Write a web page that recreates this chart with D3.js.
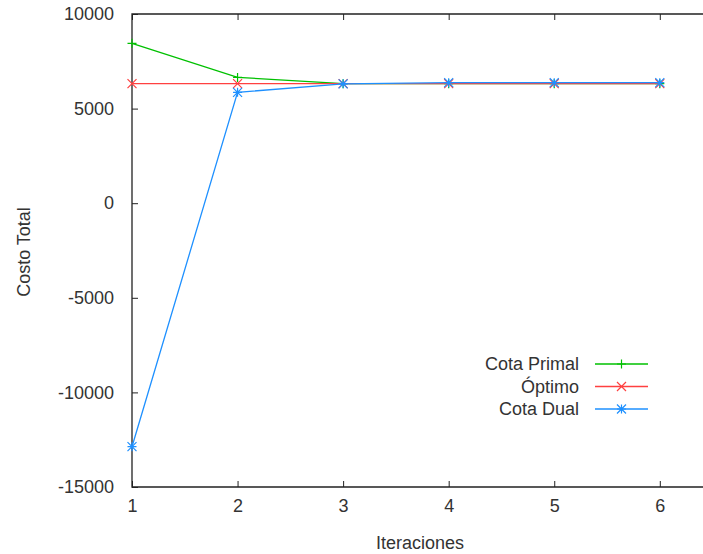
<!DOCTYPE html>
<html><head><meta charset="utf-8">
<script src="https://cdn.jsdelivr.net/npm/d3@7"></script>
<style>body{margin:0;background:#fff}svg{display:block}text{font-family:"Liberation Sans",Arial,sans-serif;fill:#333}</style>
</head><body>
<script>
const iteraciones = [1, 2, 3, 4, 5, 6];
const cotaPrimal = [8450, 6650, 6320, 6320, 6320, 6320];
const optimo = [6320, 6320, 6320, 6320, 6320, 6320];
const cotaDual = [-12870, 5860, 6310, 6370, 6370, 6370];
const yTicks = [-15000, -10000, -5000, 0, 5000, 10000];
const xTicks = [1, 2, 3, 4, 5, 6];

const W = 703, H = 554;
const svg = d3.select("body").append("svg").attr("width", W).attr("height", H);
const pLeft = 132, pTop = 14, pBottom = 487;
const x = d3.scaleLinear().domain([1, 6]).range([pLeft, 659.8]);
const pRight = x(6.5);
const y = d3.scaleLinear().domain([-15000, 10000]).range([pBottom, pTop]);
const fs = 18;

const g = svg.append("g");
// frame
g.append("path").attr("d", `M${pRight},${pTop}H${pLeft}V${pBottom}H${pRight}V${pTop}`)
  .attr("fill", "none").attr("stroke", "#222").attr("stroke-width", 1.3);
// y axis
const yAxis = d3.axisLeft(y).tickValues(yTicks).tickSize(-6).tickPadding(18).tickFormat(d => String(d));
const ya = g.append("g").attr("transform", `translate(${pLeft},0)`).call(yAxis);
ya.select(".domain").remove();
ya.selectAll("line").attr("stroke", "#222");
ya.selectAll("text").style("font-size", fs + "px").attr("fill", "#333");
// x axis
const xAxis = d3.axisBottom(x).tickValues(xTicks).tickSize(-6).tickPadding(12).tickFormat(d => String(d));
const xa = g.append("g").attr("transform", `translate(0,${pBottom})`).call(xAxis);
xa.select(".domain").remove();
xa.selectAll("line").attr("stroke", "#222");
xa.selectAll("text").style("font-size", fs + "px").attr("fill", "#333");
// top mirror ticks
const xt = g.append("g").attr("transform", `translate(0,${pTop})`).call(d3.axisTop(x).tickValues(xTicks).tickSize(-6).tickFormat(""));
xt.select(".domain").remove();
xt.selectAll("line").attr("stroke", "#222");

// titles
svg.append("text").attr("x", 420).attr("y", 543).attr("text-anchor", "middle")
  .attr("dominant-baseline", "central").style("font-size", fs + "px").text("Iteraciones");
svg.append("text").attr("transform", "translate(24,252) rotate(-90)").attr("text-anchor", "middle")
  .attr("dominant-baseline", "central").style("font-size", fs + "px").text("Costo Total");

const series = [
  {name: "Cota Primal", values: cotaPrimal, color: "#00c000", marker: "plus"},
  {name: "Óptimo", values: optimo, color: "#ff4040", marker: "cross"},
  {name: "Cota Dual", values: cotaDual, color: "#1e90ff", marker: "star"}
];
const ms = 4.5;
function marker(sel, type, cx, cy, color) {
  let d = "";
  if (type === "plus" || type === "star") d += `M${cx - ms},${cy}H${cx + ms}M${cx},${cy - ms}V${cy + ms}`;
  if (type === "cross" || type === "star") d += `M${cx - ms},${cy - ms}L${cx + ms},${cy + ms}M${cx - ms},${cy + ms}L${cx + ms},${cy - ms}`;
  sel.append("path").attr("d", d).attr("stroke", color).attr("stroke-width", 1.2).attr("fill", "none");
}
const line = d3.line().x((d, i) => x(iteraciones[i])).y(d => y(d));
series.forEach(s => {
  svg.append("path").datum(s.values).attr("d", line).attr("fill", "none")
    .attr("stroke", s.color).attr("stroke-width", 1.3);
  s.values.forEach((v, i) => marker(svg, s.marker, x(iteraciones[i]), y(v), s.color));
});

// legend
series.forEach((s, i) => {
  const ly = 364 + i * 22.5;
  svg.append("text").attr("x", 579).attr("y", ly).attr("text-anchor", "end")
    .attr("dominant-baseline", "central").style("font-size", fs + "px").text(s.name);
  svg.append("line").attr("x1", 595).attr("x2", 648).attr("y1", ly).attr("y2", ly)
    .attr("stroke", s.color).attr("stroke-width", 1.3);
  marker(svg, s.marker, 621.5, ly, s.color);
});
</script>
</body></html>
